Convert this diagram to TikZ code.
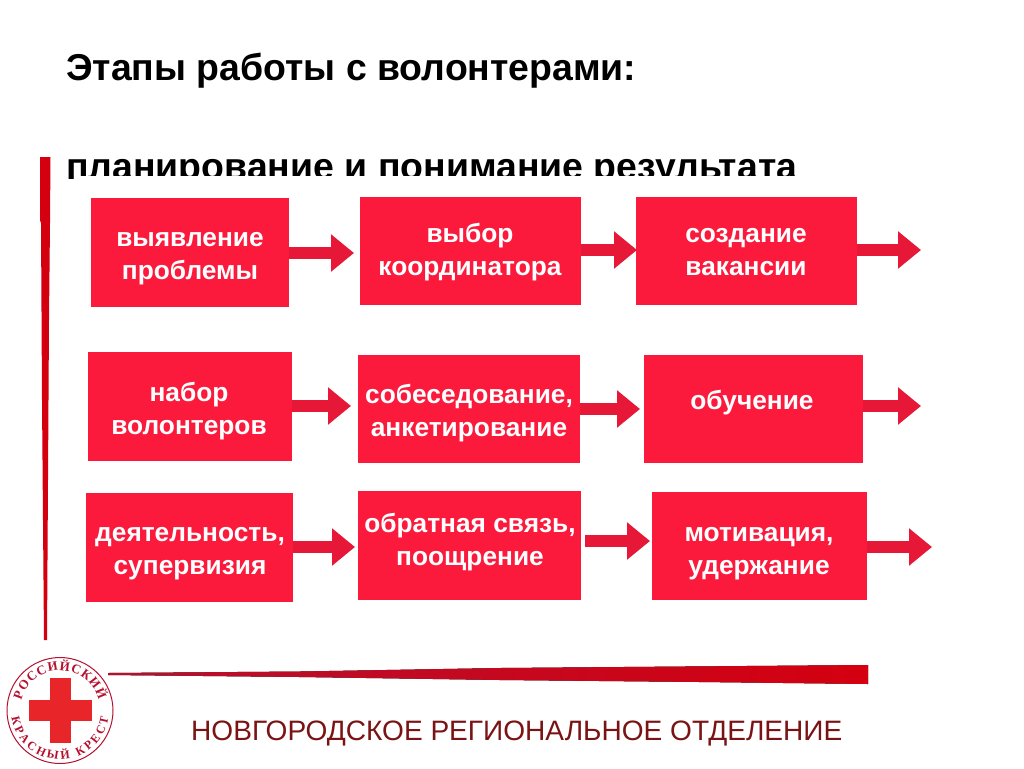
\documentclass[tikz,border=0pt]{standalone}
\usepackage{fontspec}
\setmainfont{Liberation Sans}
\newfontfamily\emblemfont{Liberation Serif}
\usetikzlibrary{positioning, calc, arrows.meta, decorations.text}
\definecolor{boxred}{HTML}{FB1A3C}
\definecolor{barred}{HTML}{D40010}
\definecolor{linered}{HTML}{B5102E}
\definecolor{crossred}{HTML}{E8262A}
\definecolor{footred}{HTML}{7A1414}
\tikzset{
    stagebox/.style={fill=boxred, inner sep=0pt},
    stagetext/.style={text=white, inner sep=0pt, align=center, font=\bfseries\fontsize{26.3}{33}\selectfont},
    headline/.style={anchor=base west, inner sep=0pt, font=\bfseries\fontsize{37.4}{37.4}\selectfont},
    flowarrow/.style={draw=boxred!92!black, line width=12pt, -{Triangle[length=23pt,width=36pt]}},
    emblemtext/.style={decorate, decoration={text along path, text align={fit to path}, text color=linered, text={#1}}},
}
\begin{document}
\begin{tikzpicture}[x=1pt, y=-1pt]
    \useasboundingbox (0,0) rectangle (1024,768);

    % Heading lines
    \node[headline] (title) at (66,81) {Этапы работы с волонтерами:};
    \node[headline] (subtitle) at (66,179) {планирование и понимание результата};
    % White sheet of the pasted picture hides the lower part of the line
    \fill[white] (74,175.5) rectangle (960,196);
    \fill[white] (60,180.5) rectangle (74,196);

    % Left bar
    \fill[barred] (40,157) -- (50.5,157) -- (50,223) -- (49,320) -- (47,640) -- (44,640) -- (42,400) -- (41,223) -- (40,220) -- cycle;

    % First row
    \node[stagebox, minimum width=198pt, minimum height=109pt] (b11) at (190,252.5) {};
    \node[stagebox, minimum width=221pt, minimum height=108pt] (b12) at (470.5,251) {};
    \node[stagebox, minimum width=221pt, minimum height=108pt] (b13) at (746.5,251) {};
    \node[stagetext] (t11) at (190,259) {выявление\\проблемы};
    \node[stagetext] (t12) at (470,252) {выбор\\координатора};
    \node[stagetext] (t13) at (746,252) {создание\\вакансии};

    % Second row
    \node[stagebox, minimum width=204pt, minimum height=109pt] (b21) at (190,406.5) {};
    \node[stagebox, minimum width=222pt, minimum height=108pt] (b22) at (469,409) {};
    \node[stagebox, minimum width=219pt, minimum height=108pt] (b23) at (753.5,409) {};
    \node[stagetext] (t21) at (189,411) {набор\\волонтеров};
    \node[stagetext] (t22) at (469,413) {собеседование,\\анкетирование};
    \node[stagetext] (t23) at (752,403) {обучение};

    % Third row
    \node[stagebox, minimum width=207pt, minimum height=109pt] (b31) at (189.5,547.5) {};
    \node[stagebox, minimum width=223pt, minimum height=109pt] (b32) at (469.5,545.5) {};
    \node[stagebox, minimum width=215pt, minimum height=108pt] (b33) at (759.5,546) {};
    \node[stagetext] (t31) at (190,554) {деятельность,\\супервизия};
    \node[stagetext] (t32) at (470,542.5) {обратная связь,\\поощрение};
    \node[stagetext] (t33) at (759,554) {мотивация,\\удержание};

    % Arrow ends
    \coordinate (e11) at (354,253);
    \coordinate (e12) at (637,250);
    \coordinate (e13) at (921,250);
    \coordinate (e21) at (351,406);
    \coordinate (e22) at (640,409);
    \coordinate (e23) at (921,406);
    \coordinate (e31) at (355,547);
    \coordinate (e32) at (650,541);
    \coordinate (e33) at (932,547);

    % Arrows
    \foreach \row/\col in {1/1, 1/2, 1/3, 2/1, 2/2, 2/3, 3/1, 3/3}
        \draw[flowarrow] (b\row\col.east |- e\row\col) -- (e\row\col);
    \draw[flowarrow, shorten <=4pt] (b32.east |- e32) -- (e32);

    % Bottom line
    \fill[left color=linered, right color=barred] (108,673) -- (300,671.5) -- (500,668) -- (868,665) -- (868,684) -- (700,682) -- (500,680) -- (300,677) -- (108,675) -- cycle;

    % Emblem
    \coordinate (emblem) at (60,710.5);
    \draw[linered, line width=1pt] (emblem) circle[radius=53];
    \fill[crossred] (29,700) rectangle (92,721);
    \fill[crossred] (50,678) rectangle (71,743);
    \path[emblemtext={|\emblemfont\bfseries\fontsize{13}{13}\selectfont|РОССИЙСКИЙ}]
        (emblem) ++(-38.6,-10.4) arc[start angle=195, end angle=345, radius=40];
    \path[emblemtext={|\emblemfont\bfseries\fontsize{12}{12}\selectfont|КРАСНЫЙ КРЕСТ}]
        (emblem) ++(-48.5,6.8) arc[start angle=172, end angle=8, radius=49];

    % Footer
    \node[anchor=base west, inner sep=0pt, text=footred, font=\fontsize{28.07}{28.07}\selectfont] (footer) at (191,740) {НОВГОРОДСКОЕ РЕГИОНАЛЬНОЕ ОТДЕЛЕНИЕ};
\end{tikzpicture}
\end{document}
